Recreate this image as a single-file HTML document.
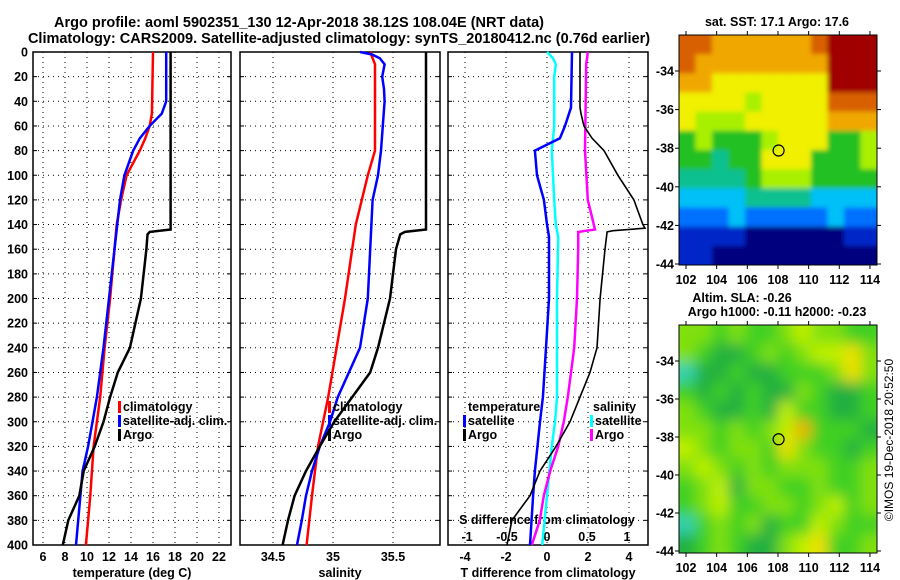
<!DOCTYPE html>
<html><head><meta charset="utf-8"><style>
body{margin:0;background:#fff}
svg{display:block;font-family:"Liberation Sans",sans-serif;font-weight:bold}
text{font-size:12.5px;fill:#000}
</style></head><body>
<svg id="c" width="900" height="580" viewBox="0 0 900 580">
<defs>
<filter id="blurS" x="-5%" y="-5%" width="110%" height="110%"><feGaussianBlur stdDeviation="2.5"/></filter>
<filter id="blurL" x="-5%" y="-5%" width="110%" height="110%"><feGaussianBlur stdDeviation="7"/></filter>
<clipPath id="clip1"><rect x="679" y="35" width="198" height="230"/></clipPath>
<clipPath id="clip2"><rect x="679" y="325" width="198" height="228"/></clipPath>
</defs>
</svg>
<script>
// ---- data ----
const depthTicks=[0,20,40,60,80,100,120,140,160,180,200,220,240,260,280,300,320,340,360,380,400];
const tTicks=[6,8,10,12,14,16,18,20,22];
const sTicks=[34.5,35,35.5];
const dTTicks=[-4,-2,0,2,4];
const dSTicks=[-1,-0.5,0,0.5,1];
const climTDepth=[0,50,60,70,80,100,120,140,160,200,240,280,320,360,400];
const climT=[16.0,15.9,15.7,15.3,14.8,13.6,13.1,12.7,12.5,12.1,11.6,11.2,10.6,10.3,9.9];
const satTDepth=[0,40,50,60,70,80,100,120,160,200,240,280,300,320,340,360,380,400];
const satT=[17.2,17.2,16.8,15.7,14.8,14.2,13.4,13.0,12.5,12.0,11.5,10.9,10.5,10.1,9.6,9.4,9.2,9.0];
const argoTDepth=[0,144,146,148,160,200,240,260,280,300,320,340,360,380,400];
const argoT=[17.6,17.6,15.7,15.5,15.4,14.9,13.9,12.8,12.1,11.5,10.7,9.7,9.3,8.3,7.8];
const climSDepth=[0,10,80,100,120,140,160,200,240,280,320,360,400];
const climS=[35.31,35.35,35.35,35.29,35.24,35.19,35.16,35.10,35.03,34.96,34.875,34.825,34.78];
const satSDepth=[0,2,5,10,20,30,40,80,100,120,160,200,240,280,300,320,340,360,380,400];
const satS=[35.225,35.325,35.39,35.43,35.41,35.425,35.43,35.40,35.375,35.33,35.31,35.29,35.225,35.04,34.975,34.89,34.825,34.775,34.74,34.70];
const argoSDepth=[0,144,146,148,160,200,240,260,280,300,320,340,360,380,400];
const argoS=[35.775,35.775,35.6,35.56,35.525,35.475,35.375,35.31,35.16,35.01,34.89,34.775,34.68,34.625,34.58];
const satDTDepth=[0,45,60,70,80,100,120,140,150,200,240,280,300,340,360,400];
const satDT=[1.22,1.17,0.88,0.63,-0.59,-0.49,-0.15,0,0.1,0.1,-0.05,-0.2,-0.34,-0.59,-0.68,-0.83];
const argoDTDepth=[0,45,50,60,70,80,100,120,140,143,145,146,160,200,240,260,280,300,320,340,360,380,400];
const argoDT=[1.61,1.61,1.66,1.80,2.20,2.78,3.46,4.24,4.68,4.78,3.22,2.93,2.83,2.59,2.44,2.10,1.61,1.12,0.44,-0.34,-0.83,-1.71,-1.95];
const satDSDepth=[0,5,10,20,60,80,120,140,150,200,280,300,320,360,400];
const satDS=[0,0.075,0.11,0.09,0.09,0.06,0.09,0.11,0.14,0.125,0.125,0.1,0.06,0,-0.06];
const argoDSDepth=[0,10,80,120,144,146,160,200,240,280,300,320,340,360,380,400];
const argoDS=[0.51,0.49,0.475,0.51,0.6,0.39,0.39,0.375,0.34,0.26,0.21,0.14,0.04,-0.04,-0.09,-0.19];
const lonTicks=[102,104,106,108,110,112,114];
const latTicks=[-34,-36,-38,-40,-42,-44];
const sstGrid=["998888889AAA","988888888AAA","887777777AAA","777767777999","766677777888","565556777556","554557775556","444456665555","333344443333","222322222322","111100000011","110000000000"];
const slaGrid=["ddcdccdeddcc","dcbbcdcdeefd","abbcbbcccdfd","cbcbcbbdcbbc","dcbbcbeccbbc","ddcdcdegcccb","edcddcfdccbc","dedcdcdddccd","cdebddccdccd","cdeccddcdecd","acdcdbccedcc","bcdcbbdefccd"];
const floatLon=108.04, floatLat=-38.12;

// ---- helpers ----
const NS="http://www.w3.org/2000/svg";const svg=document.getElementById('c');
function el(t,a,p){const e=document.createElementNS(NS,t);for(const k in a)e.setAttribute(k,a[k]);(p||svg).appendChild(e);return e;}
function txt(s,x,y,anchor,name,extra){const e=el('text',Object.assign({x:x,y:y,'text-anchor':anchor||'middle'},extra||{}));e.textContent=s;


return e;}
const yD=d=>52+d*(493/400);
const panels=[
 {x0:33,x1:231,fx:v=>43+(v-6)*11,ticks:tTicks,lab:'temperature (deg C)',name:'temperature-panel'},
 {x0:240,x1:440,fx:v=>333+(v-35)*120,ticks:sTicks,lab:'salinity',name:'salinity-panel'},
 {x0:448,x1:648,fx:v=>547+v*20.5,ticks:dTTicks,lab:'T difference from climatology',name:'difference-panel'}];
const fS=v=>547+v*80;

txt('Argo profile: aoml 5902351_130 12-Apr-2018 38.12S 108.04E (NRT data)',299,27,'middle','title-line-1',{style:'font-size:14.5px'});
txt('Climatology: CARS2009. Satellite-adjusted climatology: synTS_20180412.nc (0.76d earlier)',339,43,'middle','title-line-2',{style:'font-size:14.5px'});

panels.forEach((p,i)=>{
 const g=el('g',{});
 
 
 depthTicks.forEach(d=>{ if(d>0&&d<400) el('line',{x1:p.x0,x2:p.x1,y1:yD(d),y2:yD(d),stroke:'#000','stroke-dasharray':'1,4'},g);
   if(i==0){txt(String(d),28,yD(d)+4.5,'end','depth-tick-label');}
   el('line',{x1:p.x0,x2:p.x0+4,y1:yD(d),y2:yD(d),stroke:'#000'},g);el('line',{x1:p.x1-4,x2:p.x1,y1:yD(d),y2:yD(d),stroke:'#000'},g);});
 p.ticks.forEach(v=>{const x=p.fx(v);el('line',{x1:x,x2:x,y1:52,y2:545,stroke:'#000','stroke-dasharray':'1,4'},g);
   txt(String(v),x,561,'middle','x-tick-label');});
 txt(p.lab,(p.x0+p.x1)/2,577,'middle','x-axis-title');
 el('rect',{x:p.x0,y:52,width:p.x1-p.x0,height:493,fill:'none',stroke:'#000','stroke-width':1.5},g);
});
dSTicks.forEach(v=>txt(String(v),fS(v),541,'middle','s-diff-tick-label'));
txt('S difference from climatology',547,524,'middle','s-diff-axis-title');

function line(ds,vs,fx,col,name,w){const pts=ds.map((d,i)=>fx(vs[i]).toFixed(1)+','+yD(d).toFixed(1)).join(' ');
 const e=el('polyline',{points:pts,fill:'none',stroke:col,'stroke-width':w||2.5});
 
 }
line(climTDepth,climT,panels[0].fx,'#f00','climatology-temperature-line');
line(satTDepth,satT,panels[0].fx,'#00f','satellite-adj-temperature-line');
line(argoTDepth,argoT,panels[0].fx,'#000','argo-temperature-line');
line(climSDepth,climS,panels[1].fx,'#f00','climatology-salinity-line');
line(satSDepth,satS,panels[1].fx,'#00f','satellite-adj-salinity-line');
line(argoSDepth,argoS,panels[1].fx,'#000','argo-salinity-line');
line(satDSDepth,satDS,fS,'#0ff','satellite-salinity-diff-line');
line(argoDSDepth,argoDS,fS,'#f0f','argo-salinity-diff-line');
line(satDTDepth,satDT,panels[2].fx,'#00f','satellite-temperature-diff-line');
line(argoDTDepth,argoDT,panels[2].fx,'#000','argo-temperature-diff-line',1.6);

function legend(x,y,items,name){items.forEach((it,i)=>{const yy=y+i*14;
 if(it[1]) el('rect',{x:x,y:yy-10,width:3,height:12,fill:it[1]});
 txt(it[0],x+(it[1]?5:0),yy,'start',name);});}
legend(118,411,[['climatology','#f00'],['satellite-adj. clim.','#00f'],['Argo','#000']],'legend-entry');
legend(328,411,[['climatology','#f00'],['satellite-adj. clim.','#00f'],['Argo','#000']],'legend-entry');
legend(468,411,[['temperature',null]],'legend-title');
legend(463,425,[['satellite','#00f'],['Argo','#000']],'legend-entry');
legend(593,411,[['salinity',null]],'legend-title');
legend(590,425,[['satellite','#0ff'],['Argo','#f0f']],'legend-entry');

// ---- maps ----
const sstCol=['#00007f','#0028c8','#0070ff','#00c0f8','#10c090','#20c020','#a8f000','#f0f000','#f0a800','#d86000','#a00000'];
const slaCol={a:'#30d0b0',b:'#20b040',c:'#40d020',d:'#80e010',e:'#c0f000',f:'#f0e000',g:'#f0b000'};
function map(x0,y0,x1,y1,grid,colf,name,mk,clip,filt){
 const g=el('g',{});
 
 
 const cg=el('g',{'clip-path':'url(#'+clip+')'},g);
 const ig=el('g',{filter:'url(#'+filt+')'},cg);
 const nr=grid.length,nc=grid[0].length,cw=(x1-x0)/nc,ch=(y1-y0)/nr;
 grid.forEach((r,i)=>{for(let j=0;j<nc;j++){
   const xx=x0+j*cw-(j==0?12:0), ww=cw+0.6+(j==0?12:0)+(j==nc-1?12:0);
   const yy=y0+i*ch-(i==0?12:0), hh=ch+0.6+(i==0?12:0)+(i==nr-1?12:0);
   el('rect',{x:xx,y:yy,width:ww,height:hh,fill:colf(r[j])},ig);}});
 const fx=l=>686+(l-102)*15.33, fy=l=>mk(l);
 el('rect',{x:x0,y:y0,width:x1-x0,height:y1-y0,fill:'none',stroke:'#000'},g);
 lonTicks.forEach(l=>{el('line',{x1:fx(l),x2:fx(l),y1:y0-4,y2:y0,stroke:'#000'},g);el('line',{x1:fx(l),x2:fx(l),y1:y1,y2:y1+4,stroke:'#000'},g);});
 latTicks.forEach(l=>{el('line',{x1:x0-4,x2:x0,y1:fy(l),y2:fy(l),stroke:'#000'},g);el('line',{x1:x1,x2:x1+4,y1:fy(l),y2:fy(l),stroke:'#000'},g);
   txt(String(l),674,fy(l)+4.5,'end','latitude-tick-label');});
 const c=el('circle',{cx:fx(floatLon),cy:fy(floatLat),r:5.5,fill:'none',stroke:'#000','stroke-width':1.2},g);
 
 
}
map(679,35,877,265,sstGrid,ch=>sstCol[parseInt(ch,16)],'sst-map',l=>71+(-34-l)*19.3,'clip1','blurS');
lonTicks.forEach(l=>txt(String(l),686+(l-102)*15.33,284,'middle','longitude-tick-label'));
map(679,325,877,553,slaGrid,ch=>slaCol[ch],'sla-map',l=>361+(-34-l)*19,'clip2','blurL');
lonTicks.forEach(l=>txt(String(l),686+(l-102)*15.33,572,'middle','longitude-tick-label'));
txt('sat. SST: 17.1 Argo: 17.6',777,26,'middle','sst-map-title');
txt('Altim. SLA: -0.26',742,302,'middle','sla-map-title');
txt('Argo h1000: -0.11 h2000: -0.23',777,316,'middle','sla-map-subtitle');
txt('©IMOS 19-Dec-2018 20:52:50',893,440,'middle','copyright-timestamp',{transform:'rotate(-90 893 440)',style:'font-size:12px;font-weight:normal'});
</script>
</body></html>
